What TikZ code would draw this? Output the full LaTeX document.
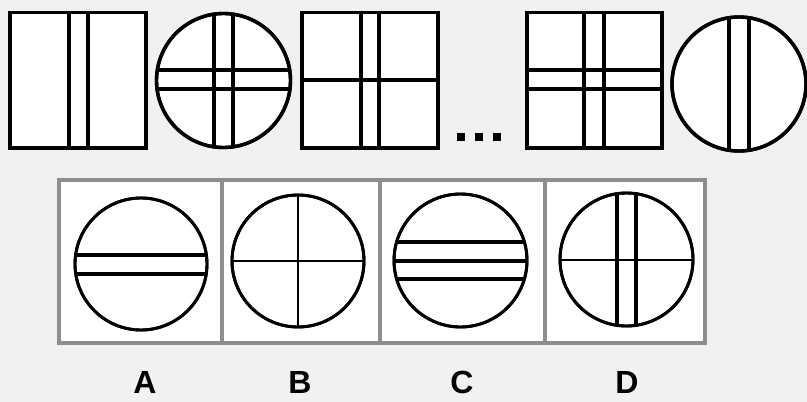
\documentclass[tikz,border=0pt]{standalone}
\usepackage{fontspec}
\newfontfamily\labfont{Liberation Sans}
\definecolor{bg}{HTML}{F1F1F1}
\definecolor{frame}{HTML}{8E8E8E}
\begin{document}
\begin{tikzpicture}[x=1pt,y=-1pt,
  fig/.style={draw=black,line width=3.4pt,fill=white},
  seg/.style={draw=black,line width=3.1pt},
  opt/.style={draw=black,line width=2.9pt,fill=white},
  thin/.style={draw=black,line width=2.2pt},
  panel/.style={draw=frame,line width=3.2pt,fill=white},
  lab/.style={font=\labfont\bfseries\fontsize{32}{32}\selectfont,inner sep=0pt,anchor=base}]
\fill[bg] (0,0) rectangle (807,402);
\useasboundingbox (0,0) rectangle (807,402);
% ---- top row ----
% 1: square with vertical strip
\draw[fig] (10,12.5) rectangle (146,148);
\draw[seg] (69,12) -- (69,148) (88,12) -- (88,148);
% 2: circle with cross of strips
\draw[fig] (223.5,80.5) circle (67);
\begin{scope}
\clip (223.5,80.5) circle (67);
\draw[seg] (214,0) -- (214,160) (233,0) -- (233,160);
\draw[seg] (150,70) -- (300,70) (150,89) -- (300,89);
\end{scope}
\draw[line width=3.4pt] (223.5,80.5) circle (67);
% 3: square, vertical strip, one horizontal line
\draw[fig] (302,12.5) rectangle (438,148);
\draw[seg] (361,12) -- (361,148) (379,12) -- (379,148);
\draw[seg] (302,80) -- (438,80);
% dots
\fill[black] (457,133) rectangle (465,141);
\fill[black] (475,133) rectangle (483,141);
\fill[black] (493,133) rectangle (501,141);
% 4: square with cross of strips
\draw[fig] (527,12.5) rectangle (662,148);
\draw[seg] (584,12) -- (584,148) (604,12) -- (604,148);
\draw[seg] (527,70) -- (662,70) (527,89) -- (662,89);
% 5: circle with vertical strip
\draw[fig] (739,84) circle (67);
\begin{scope}
\clip (739,84) circle (67);
\draw[seg] (729,0) -- (729,170) (749,0) -- (749,170);
\end{scope}
\draw[line width=3.4pt] (739,84) circle (67);
% ---- options panel ----
\draw[panel] (59,180) rectangle (705,343);
\draw[draw=frame,line width=3.2pt] (222,180) -- (222,343) (380,180) -- (380,343) (545,180) -- (545,343);
% A
\draw[opt] (141,264) circle (66);
\begin{scope}
\clip (141,264) circle (66);
\draw[seg] (70,255) -- (212,255) (70,274) -- (212,274);
\end{scope}
\draw[line width=2.9pt] (141,264) circle (66);
% B
\draw[opt] (298,261) circle (66);
\begin{scope}
\clip (298,261) circle (66);
\draw[thin] (298,190) -- (298,330) (228,261) -- (368,261);
\end{scope}
\draw[line width=2.9pt] (298,261) circle (66);
% C
\draw[opt] (460.5,260.5) circle (66.5);
\begin{scope}
\clip (460.5,260.5) circle (66.5);
\draw[seg] (390,242) -- (530,242) (390,261) -- (530,261) (390,279) -- (530,279);
\end{scope}
\draw[line width=2.9pt] (460.5,260.5) circle (66.5);
% D
\draw[opt] (626.5,259.5) circle (66.5);
\begin{scope}
\clip (626.5,259.5) circle (66.5);
\draw[seg] (617,190) -- (617,330) (636,190) -- (636,330);
\draw[thin] (556,260) -- (697,260);
\end{scope}
\draw[line width=2.9pt] (626.5,259.5) circle (66.5);
% labels
\node[lab] (la) at (145,393) {A};
\node[lab] (lb) at (300,393) {B};
\node[lab] (lc) at (462,393) {C};
\node[lab] (ld) at (627,393) {D};
\end{tikzpicture}
\end{document}
